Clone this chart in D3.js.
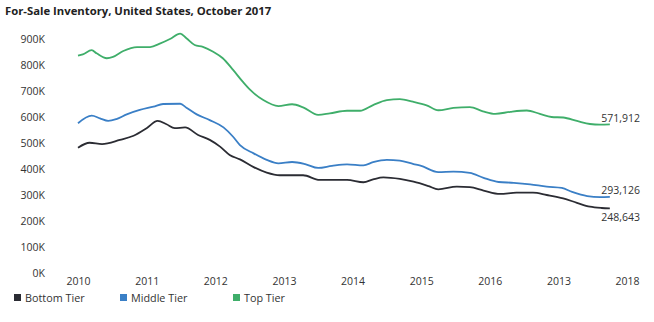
<!DOCTYPE html>
<html>
<head>
<meta charset="utf-8">
<script src="https://cdn.jsdelivr.net/npm/d3@7"></script>
<style>
  body { margin: 0; background: #fff; }
  svg { display: block; font-family: "Open Sans", "DejaVu Sans", sans-serif; }
</style>
</head>
<body>
<svg id="viz" width="654" height="322"></svg>
<script>
// tick labels (the original shows "2013" in the 2017 slot, kept as is)
var xTickYears = [2010, 2011, 2012, 2013, 2014, 2015, 2016, 2017, 2018];
var xTickLabels = ["2010", "2011", "2012", "2013", "2014", "2015", "2016", "2013", "2018"];
var yTicks = [0, 100000, 200000, 300000, 400000, 500000, 600000, 700000, 800000, 900000];

var seriesNames = ["Bottom Tier", "Middle Tier", "Top Tier"];
var seriesColors = ["#2b2c33", "#3a7fc6", "#3fae6a"];
var endLabels = ["248,643", "293,126", "571,912"];

// decimal years + values
var bottomDates = [2010.0, 2010.17, 2010.35, 2010.61, 2010.81, 2011.0, 2011.16, 2011.29, 2011.41, 2011.56, 2011.75, 2011.92, 2012.07, 2012.21, 2012.36, 2012.56, 2012.75, 2012.94, 2013.28, 2013.52, 2013.77, 2013.92, 2014.16, 2014.3, 2014.45, 2014.69, 2014.89, 2015.11, 2015.25, 2015.52, 2015.71, 2015.91, 2016.15, 2016.39, 2016.63, 2016.83, 2017.07, 2017.27, 2017.46, 2017.63, 2017.75];
var bottomValues = [482000, 501000, 496000, 512000, 528000, 557000, 585000, 572000, 557000, 560000, 531000, 512000, 486000, 454000, 437000, 407000, 386000, 376000, 376000, 358000, 358000, 358000, 349000, 360000, 368000, 362000, 351000, 334000, 322000, 332000, 330000, 317000, 304000, 309000, 309000, 300000, 287000, 270000, 255000, 250000, 248643];

var middleDates = [2010.0, 2010.2, 2010.32, 2010.44, 2010.56, 2010.71, 2010.9, 2011.1, 2011.24, 2011.49, 2011.58, 2011.73, 2011.92, 2012.12, 2012.26, 2012.36, 2012.56, 2012.75, 2012.92, 2013.12, 2013.31, 2013.5, 2013.7, 2013.92, 2014.16, 2014.3, 2014.5, 2014.69, 2014.89, 2014.99, 2015.25, 2015.47, 2015.71, 2015.91, 2016.13, 2016.35, 2016.59, 2016.83, 2017.05, 2017.2, 2017.42, 2017.61, 2017.75];
var middleValues = [576000, 605000, 595000, 585000, 592000, 610000, 627000, 640000, 650000, 651000, 636000, 610000, 588000, 560000, 524000, 492000, 460000, 435000, 422000, 427000, 419000, 404000, 412000, 418000, 414000, 426000, 435000, 432000, 419000, 413000, 388000, 390000, 385000, 366000, 350000, 347000, 341000, 332000, 327000, 312000, 296000, 292000, 293126];

var topDates = [2010.0, 2010.07, 2010.2, 2010.27, 2010.42, 2010.51, 2010.66, 2010.86, 2011.05, 2011.2, 2011.34, 2011.49, 2011.58, 2011.7, 2011.82, 2011.97, 2012.11, 2012.26, 2012.4, 2012.51, 2012.7, 2012.92, 2013.12, 2013.28, 2013.5, 2013.67, 2013.92, 2014.11, 2014.3, 2014.5, 2014.69, 2014.88, 2015.08, 2015.25, 2015.47, 2015.71, 2015.9, 2016.08, 2016.3, 2016.54, 2016.73, 2016.9, 2017.07, 2017.27, 2017.46, 2017.61, 2017.75];
var topValues = [836000, 841000, 857000, 845000, 826000, 831000, 854000, 869000, 869000, 883000, 900000, 921000, 903000, 877000, 870000, 851000, 826000, 781000, 736000, 704000, 665000, 642000, 649000, 637000, 608000, 614000, 624000, 624000, 646000, 665000, 669000, 659000, 645000, 626000, 635000, 638000, 622000, 612000, 620000, 625000, 612000, 600000, 598000, 585000, 573000, 571000, 571912];

var allDates = [bottomDates, middleDates, topDates];
var allValues = [bottomValues, middleValues, topValues];

var svg = d3.select("#viz");

var x = d3.scaleLinear().domain([2010, 2018]).range([78, 627]);
var y = d3.scaleLinear().domain([0, 900000]).range([273, 39]);

// title
svg.append("text")
    .attr("x", 5)
    .attr("y", 15)
    .style("font-size", "11.3px")
    .style("font-weight", "bold")
    .style("fill", "#222")
    .text("For-Sale Inventory, United States, October 2017");

// y axis
var yAxis = d3.axisLeft(y)
    .tickValues(yTicks)
    .tickSize(0)
    .tickPadding(0)
    .tickFormat(function(d) { return (d / 1000) + "K"; });

var gy = svg.append("g").attr("transform", "translate(45,0)").call(yAxis);
gy.select(".domain").remove();
gy.selectAll("text")
    .style("font-family", "'Open Sans', sans-serif")
    .style("font-size", "10.5px")
    .style("fill", "#333");

// x axis
var xAxis = d3.axisBottom(x)
    .tickValues(xTickYears)
    .tickSize(0)
    .tickPadding(0)
    .tickFormat(function(d, i) { return xTickLabels[i]; });

var gx = svg.append("g").attr("transform", "translate(0,278)").call(xAxis);
gx.select(".domain").remove();
gx.selectAll("text")
    .style("font-family", "'Open Sans', sans-serif")
    .style("font-size", "10.5px")
    .style("fill", "#333");

// lines
var line = d3.line()
    .x(function(d) { return x(d[0]); })
    .y(function(d) { return y(d[1]); })
    .curve(d3.curveMonotoneX);

allDates.forEach(function(dates, s) {
  var pts = dates.map(function(t, i) { return [t, allValues[s][i]]; });
  svg.append("path")
      .datum(pts)
      .attr("fill", "none")
      .attr("stroke", seriesColors[s])
      .attr("stroke-width", 1.8)
      .attr("stroke-linejoin", "round")
      .attr("d", line);
});

// end value labels
var labelOffsets = [9, -6, -6];
allDates.forEach(function(dates, s) {
  var last = dates.length - 1;
  svg.append("text")
      .attr("x", 640)
      .attr("y", y(allValues[s][last]) + labelOffsets[s])
      .attr("text-anchor", "end")
      .attr("dy", "0.35em")
      .style("font-size", "10.5px")
      .style("fill", "#333")
      .text(endLabels[s]);
});

// legend
var legendX = [14, 120, 233];
var legend = svg.append("g").selectAll("g")
    .data(seriesNames)
    .enter()
    .append("g")
    .attr("transform", function(d, i) { return "translate(" + legendX[i] + ",298)"; });

legend.append("rect")
    .attr("x", 0)
    .attr("y", -4)
    .attr("width", 7)
    .attr("height", 7)
    .attr("fill", function(d, i) { return seriesColors[i]; });

legend.append("text")
    .attr("x", 11)
    .attr("y", 0)
    .attr("dy", "0.35em")
    .style("font-size", "10.8px")
    .style("fill", "#333")
    .text(function(d) { return d; });
</script>
</body>
</html>
